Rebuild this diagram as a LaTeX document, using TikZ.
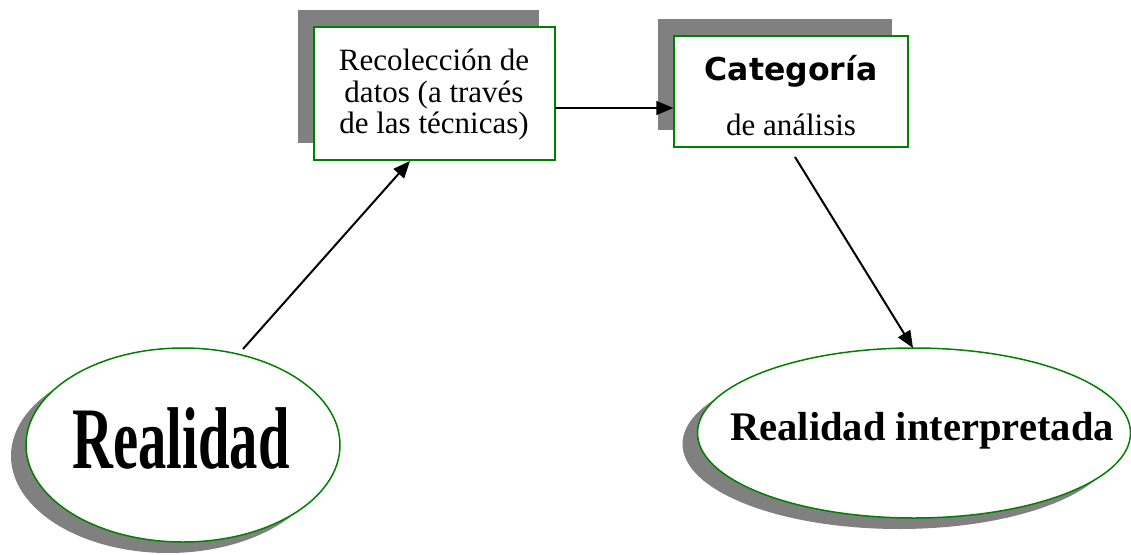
\documentclass[tikz,border=0pt]{standalone}
\usepackage{fontspec}
\setmainfont{Liberation Serif}
\newfontfamily\verd{DejaVu Sans}
\usetikzlibrary{arrows.meta,shadows,shapes.geometric}
\definecolor{bgreen}{RGB}{0,128,0}
\definecolor{shgray}{RGB}{128,128,128}
\begin{document}
\begin{tikzpicture}[x=1pt,y=-1pt,
  boxst/.style={draw=bgreen,line width=1.5pt,fill=white,inner sep=0pt,
    drop shadow={shadow xshift=-16pt,shadow yshift=17pt,fill=shgray,opacity=1}},
  ellst/.style={ellipse,draw=bgreen,line width=1.5pt,fill=white,inner sep=0pt,
    drop shadow={shadow xshift=-15pt,shadow yshift=-11pt,fill=shgray,opacity=1}},
  txt/.style={anchor=base,inner sep=0pt,font=\fontsize{31}{32}\selectfont},
  arr/.style={line width=2pt,-{Triangle[length=17pt,width=14pt]}}]
\useasboundingbox (0,0) rectangle (1131,554);
% boxes
\node[boxst,minimum width=241pt,minimum height=133pt] (B1) at (434.5,93.5) {};
\node[boxst,minimum width=234pt,minimum height=111pt] (B2) at (791,91.5) {};
\node[txt] (t1) at (434,70) {Recolección de};
\node[txt] (t2) at (434,102) {datos (a través};
\node[txt] (t3) at (434,133) {de las técnicas)};
\node[txt,font=\verd\bfseries\fontsize{31.5}{32}\selectfont] (t4) at (791,80) {Categoría};
\node[txt] (t5) at (791,135) {de análisis};
% ellipses
\node[ellst,minimum width=314pt,minimum height=194pt] (E1) at (183,445) {};
\node[ellst,minimum width=433pt,minimum height=170pt] (E2) at (914,433) {};
\node[anchor=base,inner sep=0pt] (r1) at (181,468)
  {\scalebox{1}[1.55]{\fontsize{56.6}{57}\selectfont\bfseries Realidad}};
\node[anchor=base,inner sep=0pt] (r2) at (922,440)
  {\fontsize{40.6}{41}\selectfont\bfseries Realidad interpretada};
% connectors
\coordinate (a1s) at (555,108);
\coordinate (a2s) at (243,349);
\coordinate (a2e) at (410,161);
\coordinate (a3s) at (795,157);
\coordinate (a3e) at (913,348);
\draw[arr] (a1s) -- (a1s -| B2.west);
\draw[arr] (a2s) -- (a2e);
\draw[arr] (a3s) -- (a3e);
\end{tikzpicture}
\end{document}
